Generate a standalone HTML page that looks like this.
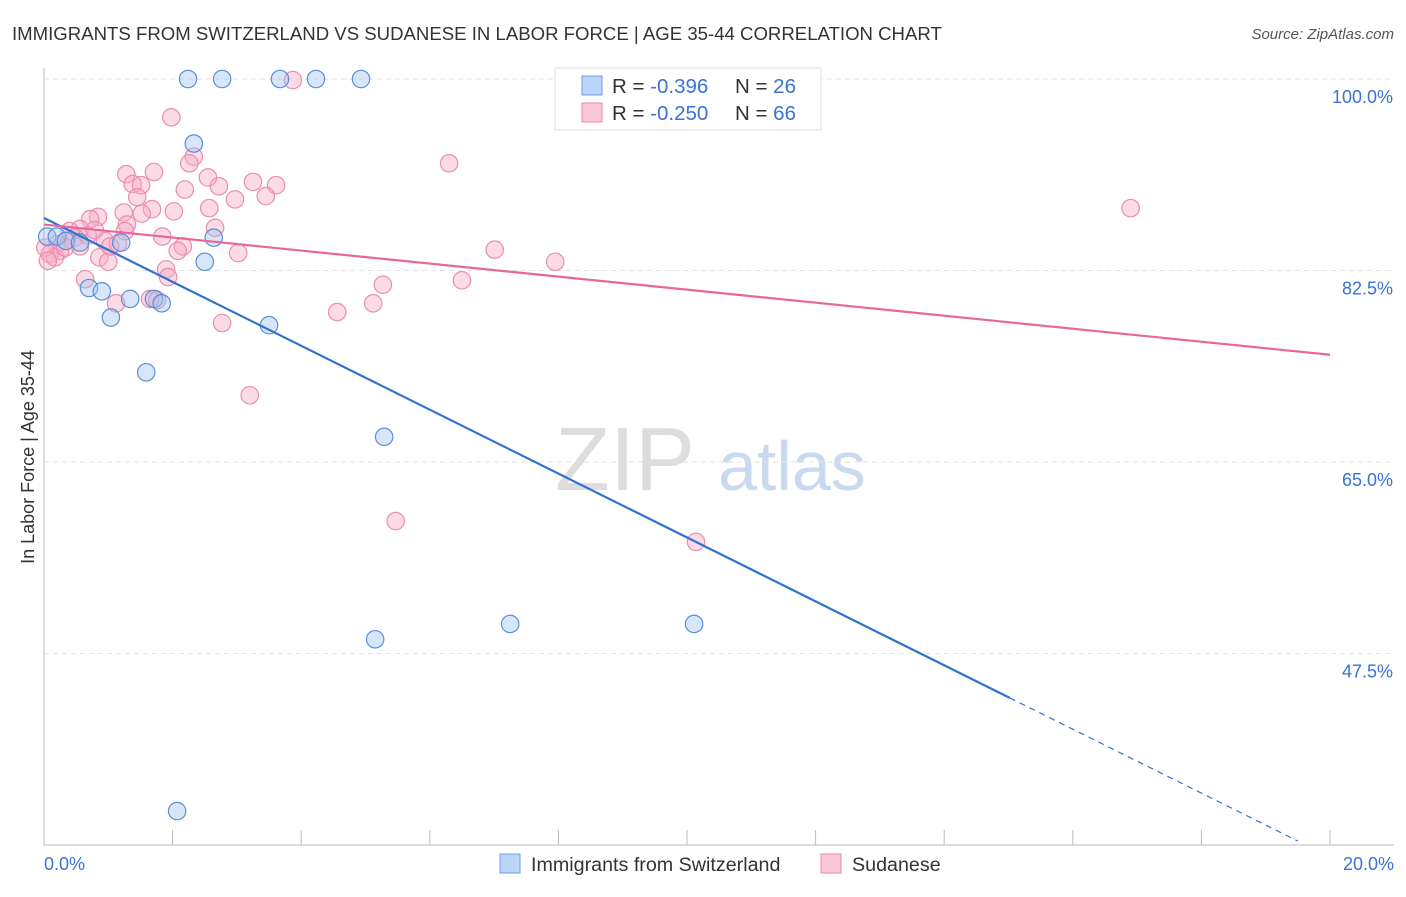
<!DOCTYPE html>
<html><head><meta charset="utf-8"><style>
body{margin:0;background:#fff;font-family:"Liberation Sans",sans-serif}
svg text{font-family:"Liberation Sans",sans-serif}
</style></head><body>
<svg id="chart" width="1406" height="892">
<text x="12" y="40" font-size="18.6" fill="#333">IMMIGRANTS FROM SWITZERLAND VS SUDANESE IN LABOR FORCE | AGE 35-44 CORRELATION CHART</text>
<text x="1394" y="39" font-size="15" fill="#555" text-anchor="end" font-style="italic">Source: ZipAtlas.com</text>
<text x="34" y="457" font-size="18" fill="#333" text-anchor="middle" transform="rotate(-90 34 457)">In Labor Force | Age 35-44</text>
<text x="555" y="490" font-size="90" fill="#ddd" font-family="Liberation Serif">ZIP</text>
<text x="718" y="490" font-size="70" fill="#c9d9ef">atlas</text>
<g id="grid"></g><g id="marks"></g>
<g>
<rect x="555" y="68" width="266" height="62" fill="#fff" stroke="#ddd"/>
<rect x="582" y="76" width="20" height="19" fill="#bcd4f6" stroke="#6d9ee6"/>
<rect x="582" y="103" width="20" height="19" fill="#fbc8d8" stroke="#ea8aaa"/>
<text x="612" y="93" font-size="20.5" fill="#333">R = <tspan fill="#3a72d6">-0.396</tspan><tspan x="735">N = </tspan><tspan fill="#3a72d6">26</tspan></text>
<text x="612" y="120" font-size="20.5" fill="#333">R = <tspan fill="#3a72d6">-0.250</tspan><tspan x="735">N = </tspan><tspan fill="#3a72d6">66</tspan></text>
</g>
<g>
<rect x="500" y="854" width="20" height="19" fill="#bcd4f6" stroke="#6d9ee6"/>
<text x="531" y="871" font-size="19.7" fill="#333">Immigrants from Switzerland</text>
<rect x="821" y="854" width="20" height="19" fill="#fbc8d8" stroke="#ea8aaa"/>
<text x="852" y="871" font-size="19.7" fill="#333">Sudanese</text>
</g>
</svg>
<script>
const yTicks=[100,82.5,65,47.5];
const yTickLabels=["100.0%","82.5%","65.0%","47.5%"];
const xTickLabels=["0.0%","20.0%"];
const blueX=[0.05,0.2,0.34,0.56,1.2,0.7,0.9,1.04,1.34,1.71,1.83,1.59,2.24,2.77,3.67,4.23,4.93,2.33,2.64,2.5,3.5,5.29,5.15,7.25,10.11,2.07];
const blueY=[85.6,85.6,85.2,85.05,85.05,80.9,80.6,78.2,79.9,79.9,79.5,73.2,100,100,100,100,100,94.1,85.5,83.3,77.5,67.3,48.8,50.2,50.2,33.1];
const pinkX=[3.87,1.98,2.33,2.26,6.3,1.28,1.71,1.38,1.51,2.72,3.25,3.61,2.19,3.45,2.97,1.45,2.55,1.24,0.84,0.72,1.68,2.02,2.57,16.9,1.29,1.52,2.66,0.56,0.4,0.95,1.15,1.84,2.16,2.08,3.02,0.48,0.2,0.25,0.09,0.17,0.56,0.86,1.0,7.01,7.95,1.9,1.93,0.64,5.27,6.5,1.12,1.65,1.76,5.12,4.56,2.77,3.2,5.47,10.14,1.26,0.68,0.33,1.03,0.02,0.06,0.79];
const pinkY=[99.9,96.5,92.9,92.3,92.3,91.3,91.5,90.4,90.3,90.2,90.6,90.3,89.9,89.3,89.0,89.2,91.0,87.8,87.4,87.2,88.1,87.9,88.2,88.2,86.7,87.7,86.4,86.3,86.1,85.2,85.0,85.6,84.7,84.3,84.1,85.5,84.9,84.3,84.0,83.7,84.7,83.7,83.3,84.4,83.3,82.6,81.9,81.7,81.2,81.6,79.5,79.9,79.8,79.5,78.7,77.7,71.1,59.6,57.7,86.1,85.7,84.6,84.7,84.6,83.4,86.2];
const blueTrend=[87.3,-2.92];
const pinkTrend=[86.7,-0.595];
const NS="http://www.w3.org/2000/svg";
const xS=v=>44+v/20*1286;
const yS=v=>79+(100-v)/17.5*191.5;
function mk(t,a,p){const e=document.createElementNS(NS,t);for(const k in a)e.setAttribute(k,a[k]);document.getElementById(p).appendChild(e);return e;}
let ax=mk('line',{x1:44,y1:68,x2:44,y2:845,stroke:'#bbb'},'grid');


let bx=mk('line',{x1:44,y1:845,x2:1394,y2:845,stroke:'#bbb'},'grid');


yTicks.forEach((t,i)=>{
 const g=mk('line',{x1:44,y1:yS(t),x2:1394,y2:yS(t),stroke:'#e2e2e2','stroke-dasharray':'5,4'},'grid');
 
 
 const l=mk('text',{x:1393,y:yS(t)+24,'font-size':18,fill:'#3a72d6','text-anchor':'end'},'grid');
 l.textContent=yTickLabels[i];
 
 
});
for(let i=0;i<=10;i++){
 const t=mk('line',{x1:xS(i*2),y1:830,x2:xS(i*2),y2:845,stroke:'#bbb'},'grid');
 
 
}
[[0,'start',44],[20,'end',1394]].forEach((d,i)=>{
 const l=mk('text',{x:d[2],y:870,'font-size':18,fill:'#3a72d6','text-anchor':d[1]},'grid');
 l.textContent=xTickLabels[i];
 
 
});
pinkX.forEach((x,i)=>{
 const c=mk('circle',{cx:xS(x),cy:yS(pinkY[i]),r:8.7,fill:'rgba(247,170,195,0.42)',stroke:'#e98fae','stroke-width':1.2},'marks');
 
 
});
blueX.forEach((x,i)=>{
 const c=mk('circle',{cx:xS(x),cy:yS(blueY[i]),r:8.7,fill:'rgba(160,195,240,0.42)',stroke:'#5b8fdc','stroke-width':1.2},'marks');
 
 
});
const bt=v=>blueTrend[0]+blueTrend[1]*v, pt=v=>pinkTrend[0]+pinkTrend[1]*v;
let l1=mk('line',{x1:xS(0),y1:yS(bt(0)),x2:xS(15.02),y2:yS(bt(15.02)),stroke:'#2f72d3','stroke-width':2.2},'marks');


let l2=mk('line',{x1:xS(15.02),y1:yS(bt(15.02)),x2:xS(19.5),y2:yS(bt(19.5)),stroke:'#2f72d3','stroke-width':1.2,'stroke-dasharray':'6,5'},'marks');


let l3=mk('line',{x1:xS(0),y1:yS(pt(0)),x2:xS(20),y2:yS(pt(20)),stroke:'#e8679a','stroke-width':2.2},'marks');


</script>
</body></html>
